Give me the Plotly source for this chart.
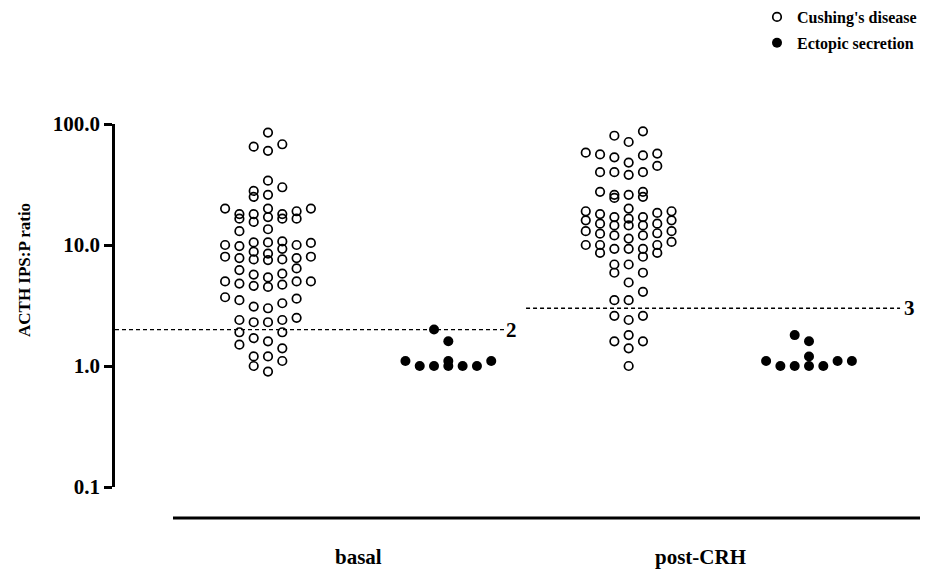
import math
import plotly.graph_objects as go

# ---------------- data ----------------
groups = ["basal", "post-CRH"]
series = ["Cushing's disease", "Ectopic secretion"]
cutoffs = [2, 3]
cutoff_labels = ["2", "3"]
ytick_vals = [0.1, 1, 10, 100]
ytick_text = ["0.1", "1.0", "10.0", "100.0"]
y_title = "ACTH IPS:P ratio"

cd_basal = [85, 68, 65, 60, 34, 28, 30, 25, 26,
            20, 18, 16.5, 20, 18, 16.5, 17, 18, 19, 15.5, 20, 16.5,
            13, 13.5, 10, 10.5, 9.8, 10.5, 10.7, 10, 10.4,
            9.3, 8.8, 8.5, 8, 7.6, 7.5, 7.8, 7.8, 7.6, 8,
            6.2, 6.4, 5.8, 5.4, 5.7, 5, 4.8, 4.6, 4.5, 4.7, 5, 5,
            3.6, 3.3, 3.0, 3.1, 3.5, 3.7, 2.4, 2.3, 2.3, 2.4, 2.5,
            1.9, 1.9, 1.5, 1.6, 1.7, 1.4, 1.2, 1.1, 1.2, 1.0, 0.9]
ect_basal = [2.0, 1.6, 1.1, 1.0, 1.0, 1.0, 1.1, 1.0, 1.0, 1.1]
cd_post = [87, 71, 80, 57, 55, 53, 56, 58, 45, 40, 38, 40, 40, 48,
           27.5, 26, 25, 24.5, 26, 27.5,
           20, 19, 18.4, 16.5, 17, 15, 16, 17, 16, 18,
           14.5, 19, 15, 14.5, 14.5, 13, 12.5, 12, 12.4, 11.3, 13, 12,
           10.6, 10, 8.6, 9.3, 9.3, 9.3, 8.0, 10, 8.6, 10,
           6.9, 5.9, 6.9, 5.9, 4.9, 4.1, 3.5, 3.5, 2.6, 2.4, 2.6,
           1.8, 1.6, 1.4, 1.6, 1.0]
ect_post = [1.8, 1.6, 1.2, 1.1, 1.1, 1.0, 1.0, 1.0, 1.0, 1.1]

values = {("basal", 0): cd_basal, ("basal", 1): ect_basal,
          ("post-CRH", 0): cd_post, ("post-CRH", 1): ect_post}

# ---------------- layout constants ----------------
W, H = 928, 577
M_L, M_R, M_T, M_B = 107, 6, 116, 98
PLOT_W = W - M_L - M_R
PLOT_H = H - M_T - M_B
X_RANGE = [0.1516, 4.671]
Y_RANGE = [-1, 2]
PX_PER_X = PLOT_W / (X_RANGE[1] - X_RANGE[0])
PX_PER_DEC = PLOT_H / (Y_RANGE[1] - Y_RANGE[0])
SLOT_PX = 14.3
ROW_PX = 12
PER_ROW = 7
FONT = "Liberation Serif"
LABEL_X = [1.5, 3.4]


def swarm_offsets(vals):
    """Prism-like column scatter: bin sorted values into rows, spread each row."""
    order = sorted(range(len(vals)), key=lambda i: vals[i])
    seq = [0]
    k = 1
    while len(seq) < PER_ROW:
        seq += [-k, k]
        k += 1
    offs = [0.0] * len(vals)
    start, n = None, 0
    for i in order:
        y = math.log10(vals[i]) * PX_PER_DEC
        if start is None or y - start > ROW_PX or n >= PER_ROW:
            start, n = y, 0
        offs[i] = seq[n] * SLOT_PX / PX_PER_X
        n += 1
    return offs


def center(gi, si):
    return 1 + 2 * gi + si


fig = go.Figure()
for si, name in enumerate(series):
    xs, ys = [], []
    for gi, g in enumerate(groups):
        v = values[(g, si)]
        o = swarm_offsets(v)
        xs += [center(gi, si) + d for d in o]
        ys += v
    if si == 0:
        marker = dict(symbol="circle-open", size=8.5, color="black",
                      line=dict(width=1.7, color="black"))
    else:
        marker = dict(symbol="circle", size=10, color="black",
                      line=dict(width=0))
    fig.add_trace(go.Scatter(x=xs, y=ys, mode="markers", name=name,
                             legendgroup=name, marker=marker))

# cut-off dashed lines with labels
dash_spans = [(X_RANGE[0], 2.314, 2.35), (2.431, 4.505, 4.555)]
for c, lab, (x0, x1, xl) in zip(cutoffs, cutoff_labels, dash_spans):
    fig.add_shape(type="line", xref="x", yref="y", x0=x0, x1=x1, y0=c, y1=c,
                  line=dict(color="black", width=1.3, dash="4px,3px"))
    fig.add_annotation(x=xl, y=math.log10(c), xref="x", yref="y", text=lab,
                       showarrow=False, xanchor="center", yanchor="middle",
                       font=dict(family=FONT, size=21, color="black", weight="bold"))

# x baseline
fig.add_shape(type="line", xref="x", yref="paper",
              x0=1 - (260 - 165) / PX_PER_X, x1=X_RANGE[1],
              y0=-31 / PLOT_H, y1=-31 / PLOT_H,
              line=dict(color="black", width=3))

# group labels
for gi, g in enumerate(groups):
    fig.add_annotation(x=LABEL_X[gi], y=-(549 - (M_T + PLOT_H)) / PLOT_H,
                       xref="x", yref="paper", text=g, showarrow=False,
                       xanchor="center", yanchor="middle",
                       font=dict(family=FONT, size=21, color="black", weight="bold"))

# y title
fig.add_annotation(x=-(M_L - 16) / PLOT_W, y=(M_T + PLOT_H - 262) / PLOT_H,
                   xref="paper", yref="paper", text=y_title, textangle=-90,
                   showarrow=False, xanchor="center", yanchor="middle",
                   font=dict(family=FONT, size=17, color="black", weight="bold"))

fig.update_layout(
    width=W, height=H,
    margin=dict(l=M_L, r=M_R, t=M_T, b=M_B, autoexpand=False),
    paper_bgcolor="white", plot_bgcolor="white",
    showlegend=True,
    legend=dict(x=(749 - M_L) / PLOT_W, y=(M_T + PLOT_H + 8) / PLOT_H, xanchor="left",
                yanchor="top", traceorder="grouped", tracegroupgap=2,
                font=dict(family=FONT, size=16, color="black", weight="bold"),
                bgcolor="rgba(0,0,0,0)", itemwidth=30),
    xaxis=dict(range=X_RANGE, visible=False, fixedrange=True),
    yaxis=dict(type="log", range=Y_RANGE, showline=True, linecolor="black",
               linewidth=2.5, ticks="outside", ticklen=8, tickwidth=2.5,
               tickcolor="black", tickvals=ytick_vals, ticktext=ytick_text,
               showgrid=False, zeroline=False, mirror=False,
               tickfont=dict(family=FONT, size=21, color="black", weight="bold")),
)

fig.write_html("out.html")
